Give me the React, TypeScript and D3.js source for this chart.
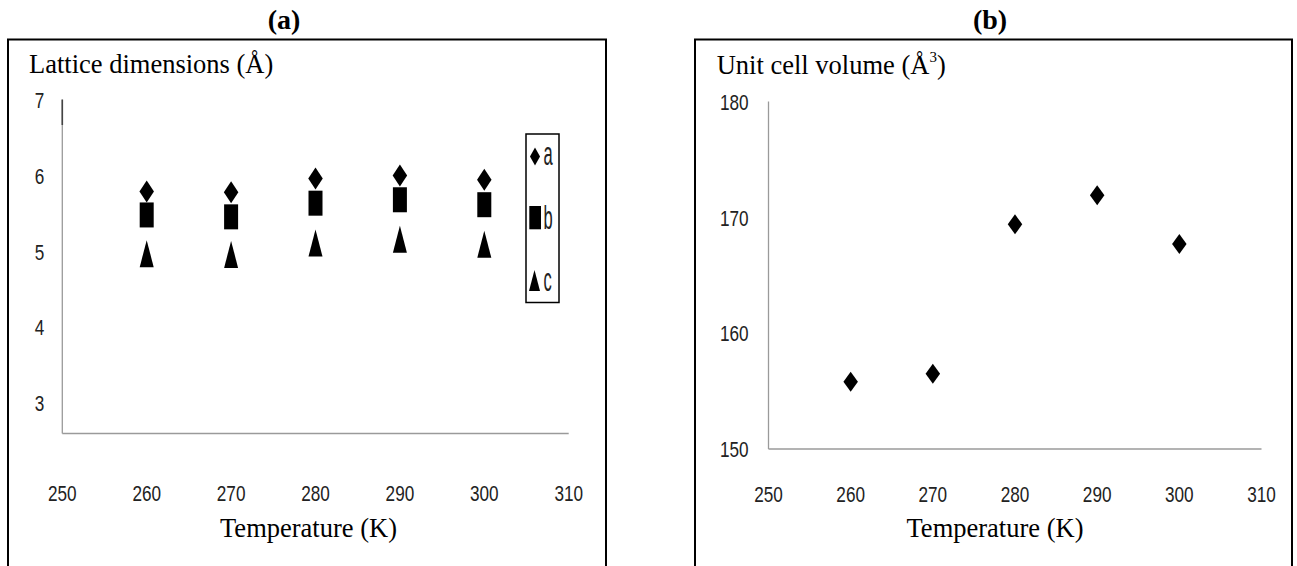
import React from "react";
import * as d3 from "d3";

const temps = [260, 270, 280, 290, 300];
const aVals = [5.79, 5.78, 5.96, 6.0, 5.945];
const bVals = [5.48, 5.455, 5.635, 5.68, 5.615];
const cVals = [4.97, 4.96, 5.11, 5.16, 5.095];
const volume = [155.8, 156.5, 169.4, 171.9, 167.7];
const xTicks = [250, 260, 270, 280, 290, 300, 310];
const yTicksA = [3, 4, 5, 6, 7];
const yTicksB = [150, 160, 170, 180];
const legendNames = ["a", "b", "c"];

const SERIF = "'Liberation Serif', 'Times New Roman', serif";
const SANS = "'Liberation Sans', Arial, sans-serif";

const diamond = (cx: number, cy: number, w: number, h: number) => {
  const p = d3.path();
  p.moveTo(cx, cy - h / 2);
  p.lineTo(cx + w / 2, cy);
  p.lineTo(cx, cy + h / 2);
  p.lineTo(cx - w / 2, cy);
  p.closePath();
  return p.toString();
};
const triangle = (cx: number, cy: number, w: number, h: number) => {
  const p = d3.path();
  p.moveTo(cx, cy - h / 2);
  p.lineTo(cx + w / 2, cy + h / 2);
  p.lineTo(cx - w / 2, cy + h / 2);
  p.closePath();
  return p.toString();
};

const Tick = ({ x, y, t, anchor = "middle" }: { x: number; y: number; t: string; anchor?: string }) => (
  <text
    transform={`translate(${x},${y + 8.2}) scale(0.78,1.04)`}
    textAnchor={anchor as any}
    fontFamily={SANS}
    fontSize={22}
    fill="#222"
  >
    {t}
  </text>
);

export default function App() {
  // Panel (a)
  const xA = d3.scaleLinear().domain([250, 310]).range([62.3, 568.7]);
  const yA = d3.scaleLinear().domain([2.6, 7]).range([433.5, 99.6]);
  // Panel (b)
  const xB = d3.scaleLinear().domain([250, 310]).range([768.5, 1261.5]);
  const yB = d3.scaleLinear().domain([150, 180]).range([449, 101.5]);

  const axisColor = "#9a9a9a";

  return (
    <svg
      width={1297}
      height={566}
      style={{ position: "absolute", left: 0, top: 0, background: "#fff" }}
    >
      <rect x={0} y={0} width={1297} height={566} fill="#fff" />

      {/* ---------- Panel (a) ---------- */}
      <text x={284} y={29} textAnchor="middle" fontFamily={SERIF} fontWeight="bold" fontSize={28}>
        (a)
      </text>
      <rect x={8} y={39.5} width={598} height={560} fill="none" stroke="#000" strokeWidth={2} />
      <text x={29} y={73} fontFamily={SERIF} fontSize={26.5}>
        Lattice dimensions (Å)
      </text>

      <line x1={xA(250)} x2={xA(250)} y1={yA(7)} y2={yA(2.6)} stroke={axisColor} strokeWidth={1.3} />
      <line x1={xA(250)} x2={xA(250)} y1={yA(7)} y2={125} stroke="#444" strokeWidth={1.6} />
      <line x1={xA(250)} x2={xA(310)} y1={yA(2.6)} y2={yA(2.6)} stroke={axisColor} strokeWidth={1.3} />

      {yTicksA.map((v) => (
        <Tick key={v} x={xA(250) - 18} y={yA(v)} t={String(v)} anchor="end" />
      ))}
      {xTicks.map((v) => (
        <Tick key={v} x={xA(v)} y={492.7} t={String(v)} />
      ))}

      {temps.map((t, i) => (
        <g key={t}>
          <path d={diamond(xA(t), yA(aVals[i]), 14.5, 22)} fill="#000" />
          <rect x={xA(t) - 7} y={yA(bVals[i]) - 12.5} width={14} height={25} fill="#000" />
          <path d={triangle(xA(t), yA(cVals[i]), 14, 27)} fill="#000" />
        </g>
      ))}

      {/* legend */}
      <rect x={526} y={134} width={33} height={168.5} fill="#fff" stroke="#000" strokeWidth={1.5} />
      <path d={diamond(535, 156.5, 10, 18)} fill="#000" />
      <rect x={529.3} y={206} width={11.7} height={23.3} fill="#000" />
      <path d={triangle(534.5, 280.5, 11, 21)} fill="#000" />
      {legendNames.map((n, i) => (
        <text
          key={n}
          transform={`translate(543.5,${[165, 228.8, 290.8][i]}) scale(0.5,1)`}
          fontFamily={SANS}
          fontSize={33}
          fill="#222"
        >
          {n}
        </text>
      ))}

      <text x={308.5} y={536.5} textAnchor="middle" fontFamily={SERIF} fontSize={26.5}>
        Temperature (K)
      </text>

      {/* ---------- Panel (b) ---------- */}
      <text x={990} y={29} textAnchor="middle" fontFamily={SERIF} fontWeight="bold" fontSize={28}>
        (b)
      </text>
      <rect x={695} y={39.5} width={597} height={560} fill="none" stroke="#000" strokeWidth={2} />
      <text x={716.7} y={74} fontFamily={SERIF} fontSize={26.5}>
        Unit cell volume (Å
        <tspan fontSize={15} dy={-12}>3</tspan>
        <tspan dy={12}>)</tspan>
      </text>

      <line x1={xB(250)} x2={xB(250)} y1={yB(180)} y2={yB(150)} stroke={axisColor} strokeWidth={1.3} />
      <line x1={xB(250)} x2={xB(310)} y1={yB(150)} y2={yB(150)} stroke={axisColor} strokeWidth={1.3} />

      {yTicksB.map((v) => (
        <Tick key={v} x={xB(250) - 20} y={yB(v)} t={String(v)} anchor="end" />
      ))}
      {xTicks.map((v) => (
        <Tick key={v} x={xB(v)} y={494} t={String(v)} />
      ))}

      {temps.map((t, i) => (
        <path key={t} d={diamond(xB(t), yB(volume[i]), 14.5, 20)} fill="#000" />
      ))}

      <text x={995} y={537} textAnchor="middle" fontFamily={SERIF} fontSize={26.5}>
        Temperature (K)
      </text>
    </svg>
  );
}
